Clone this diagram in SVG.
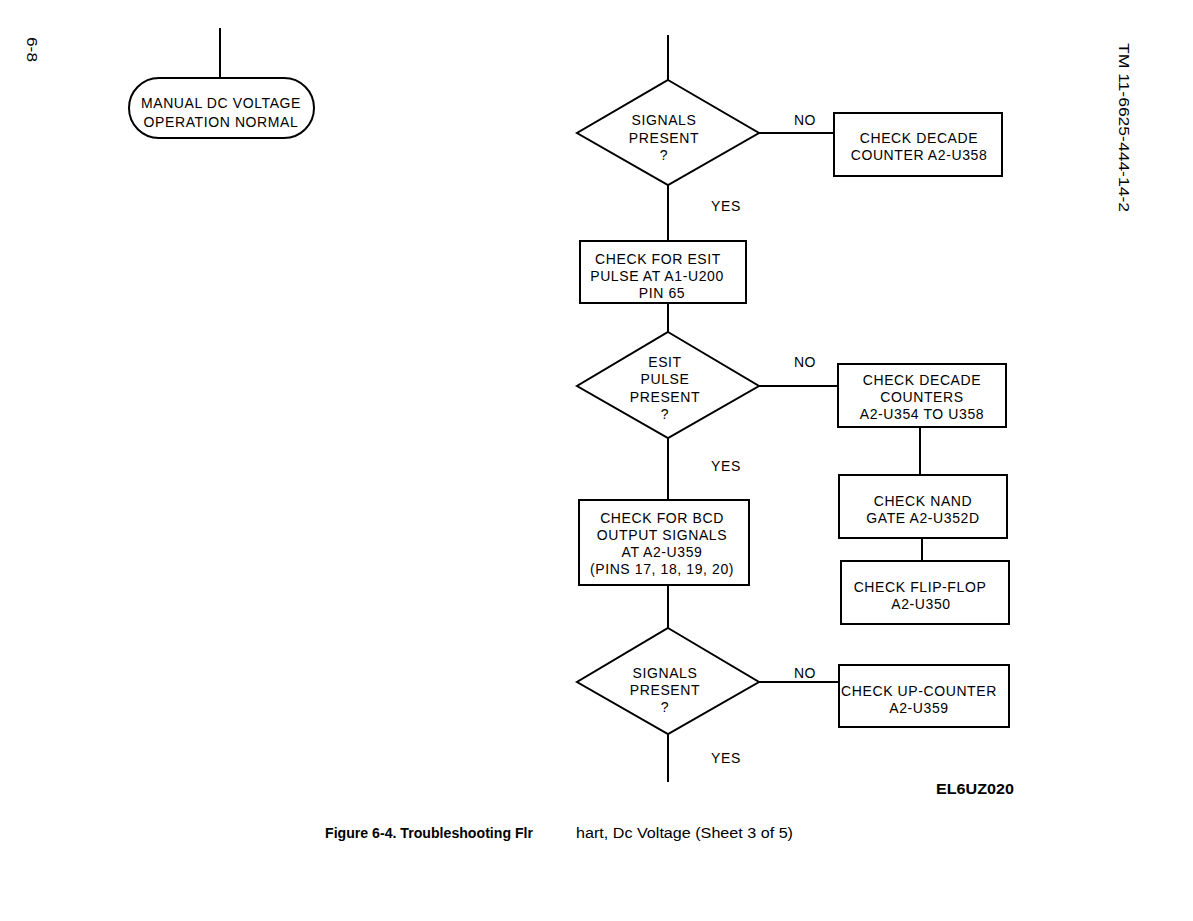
<svg xmlns="http://www.w3.org/2000/svg" width="1193" height="921" viewBox="0 0 1193 921">
<style>
.shape{fill:none;stroke:#000;stroke-width:2}
.ln{stroke:#000;stroke-width:2;fill:none}
text{font-family:"Liberation Sans",Arial,sans-serif;font-size:14px;fill:#000}
.c{text-anchor:middle;letter-spacing:0.6px}
.b{font-weight:bold}
</style>
<rect width="1193" height="921" fill="#fff"/>
<text transform="translate(27,37) rotate(90)" font-size="13" textLength="25" lengthAdjust="spacingAndGlyphs">6-8</text>
<text transform="translate(1119,43) rotate(90)" textLength="169" lengthAdjust="spacingAndGlyphs">TM 11-6625-444-14-2</text>
<g id="connectors">
<line class="ln" x1="220" y1="28" x2="220" y2="78"/>
<line class="ln" x1="668" y1="35" x2="668" y2="80"/>
<line class="ln" x1="759" y1="133" x2="834" y2="133"/>
<line class="ln" x1="668" y1="185" x2="668" y2="241"/>
<line class="ln" x1="668" y1="303" x2="668" y2="332"/>
<line class="ln" x1="759" y1="386" x2="838" y2="386"/>
<line class="ln" x1="920" y1="427" x2="920" y2="475"/>
<line class="ln" x1="922" y1="538" x2="922" y2="561"/>
<line class="ln" x1="668" y1="438" x2="668" y2="500"/>
<line class="ln" x1="668" y1="585" x2="668" y2="628"/>
<line class="ln" x1="759" y1="682" x2="839" y2="682"/>
<line class="ln" x1="668" y1="734" x2="668" y2="782"/>
<text x="805" y="125" class="c">NO</text>
<text x="726" y="211" class="c">YES</text>
<text x="805" y="367" class="c">NO</text>
<text x="726" y="471" class="c">YES</text>
<text x="805" y="678" class="c">NO</text>
<text x="726" y="763" class="c">YES</text>
</g>
<g id="start">
<rect class="shape" x="129" y="78" width="185" height="60" rx="30" ry="30"/>
<text x="221" y="108" class="c">MANUAL DC VOLTAGE</text>
<text x="221" y="127" class="c">OPERATION NORMAL</text>
</g>
<g id="d1">
<polygon class="shape" points="668,80 759,133 668,185 577,133"/>
<text x="664" y="125" class="c">SIGNALS</text>
<text x="664" y="143" class="c">PRESENT</text>
<text x="664" y="160" class="c">?</text>
</g>
<g id="b1">
<rect class="shape" x="834" y="113" width="168" height="63"/>
<text x="919" y="143" class="c">CHECK DECADE</text>
<text x="919" y="160" class="c">COUNTER A2-U358</text>
</g>
<g id="b2">
<rect class="shape" x="580" y="241" width="166" height="62"/>
<text x="658" y="264" class="c">CHECK FOR ESIT</text>
<text x="657" y="281" class="c">PULSE AT A1-U200</text>
<text x="662" y="298" class="c">PIN 65</text>
</g>
<g id="d2">
<polygon class="shape" points="668,332 759,386 668,438 577,386"/>
<text x="665" y="367" class="c">ESIT</text>
<text x="665" y="384" class="c">PULSE</text>
<text x="665" y="402" class="c">PRESENT</text>
<text x="665" y="419" class="c">?</text>
</g>
<g id="b3">
<rect class="shape" x="838" y="364" width="168" height="63"/>
<text x="922" y="385" class="c">CHECK DECADE</text>
<text x="922" y="402" class="c">COUNTERS</text>
<text x="922" y="419" class="c">A2-U354 TO U358</text>
</g>
<g id="b4">
<rect class="shape" x="839" y="475" width="168" height="63"/>
<text x="923" y="506" class="c">CHECK NAND</text>
<text x="923" y="523" class="c">GATE A2-U352D</text>
</g>
<g id="b5">
<rect class="shape" x="841" y="561" width="168" height="63"/>
<text x="920" y="592" class="c">CHECK FLIP-FLOP</text>
<text x="921" y="609" class="c">A2-U350</text>
</g>
<g id="b6">
<rect class="shape" x="579" y="500" width="170" height="85"/>
<text x="662" y="523" class="c">CHECK FOR BCD</text>
<text x="662" y="540" class="c">OUTPUT SIGNALS</text>
<text x="662" y="557" class="c">AT A2-U359</text>
<text x="662" y="574" class="c">(PINS 17, 18, 19, 20)</text>
</g>
<g id="d3">
<polygon class="shape" points="668,628 759,682 668,734 577,682"/>
<text x="665" y="678" class="c">SIGNALS</text>
<text x="665" y="695" class="c">PRESENT</text>
<text x="665" y="712" class="c">?</text>
</g>
<g id="b7">
<rect class="shape" x="839" y="665" width="170" height="62"/>
<text x="919" y="696" class="c">CHECK UP-COUNTER</text>
<text x="919" y="713" class="c">A2-U359</text>
</g>
<text x="936" y="794" class="b" textLength="78" lengthAdjust="spacingAndGlyphs">EL6UZ020</text>
<text x="325" y="838" class="b" font-size="13" textLength="208" lengthAdjust="spacingAndGlyphs">Figure 6-4. Troubleshooting Flr</text>
<text x="576" y="838" font-size="13" textLength="217" lengthAdjust="spacingAndGlyphs">hart, Dc Voltage (Sheet 3 of 5)</text>
</svg>
